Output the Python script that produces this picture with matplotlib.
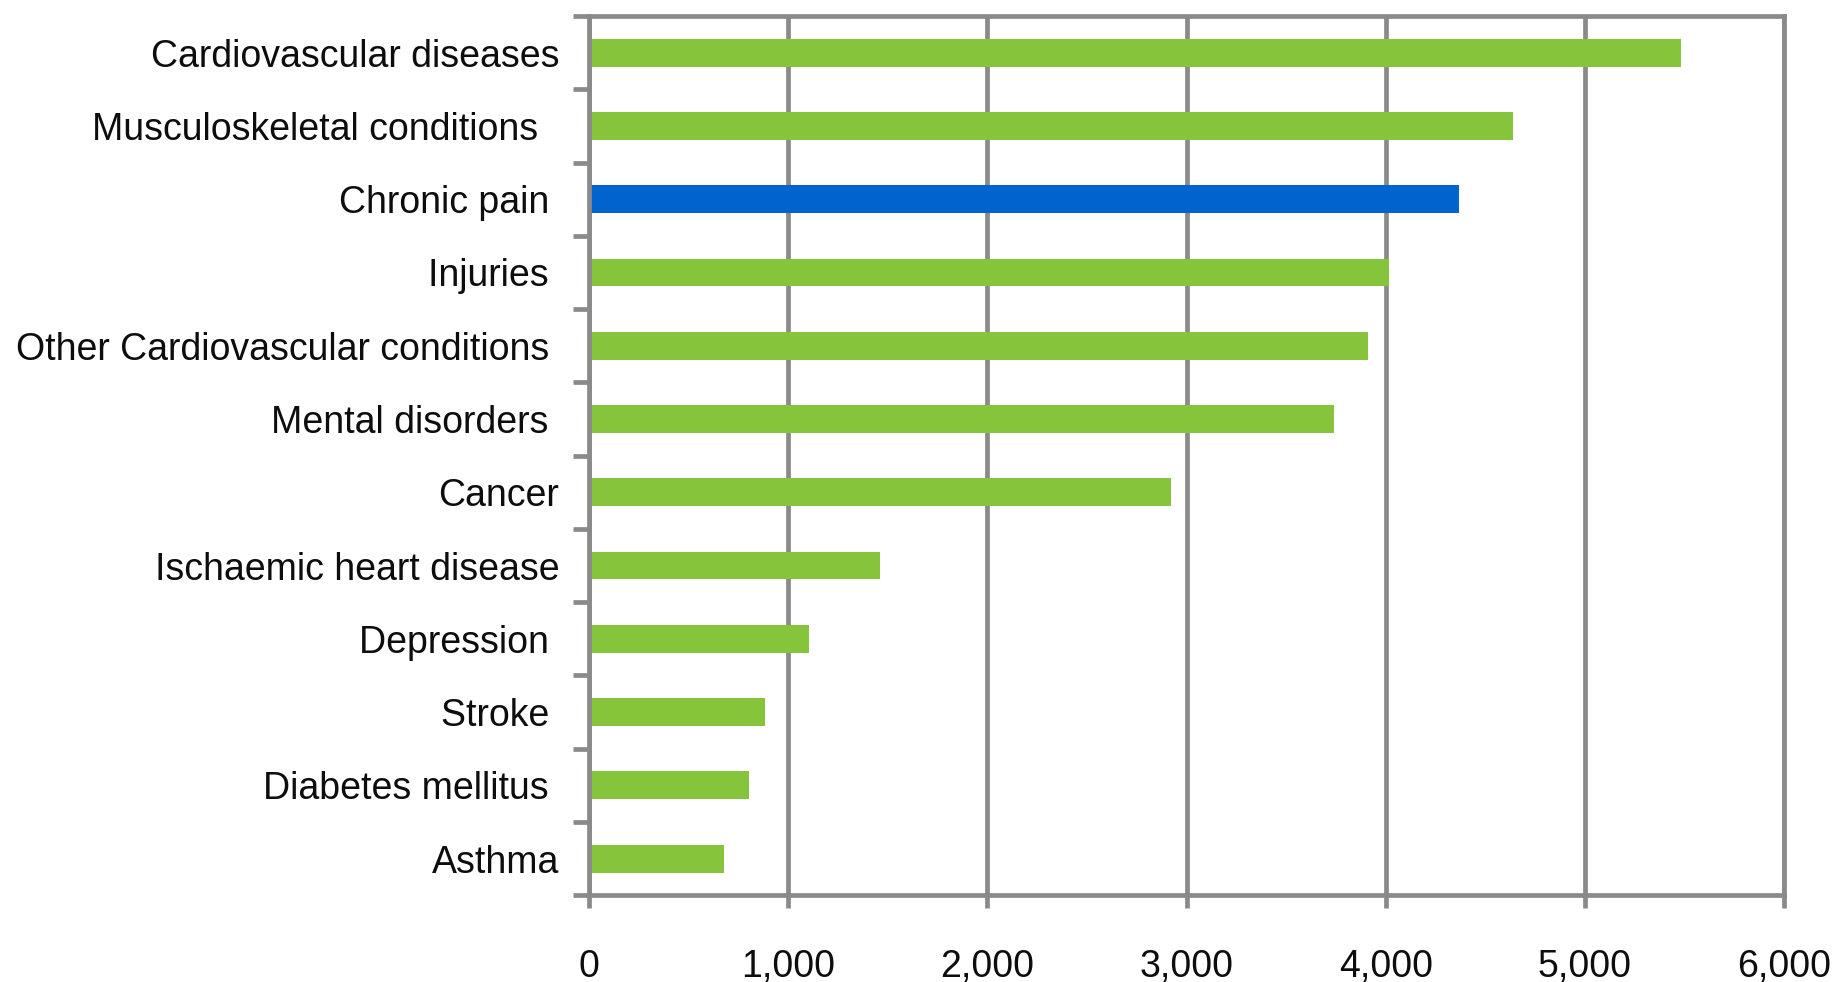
import matplotlib
matplotlib.use("Agg")
import matplotlib.pyplot as plt
from matplotlib.ticker import FuncFormatter

plt.rcParams['font.family'] = ['Liberation Sans', 'DejaVu Sans']

# Conditions (top to bottom) and their values
conditions = [
    "Cardiovascular diseases",
    "Musculoskeletal conditions  ",
    "Chronic pain ",
    "Injuries ",
    "Other Cardiovascular conditions ",
    "Mental disorders ",
    "Cancer",
    "Ischaemic heart disease",
    "Depression ",
    "Stroke ",
    "Diabetes mellitus ",
    "Asthma",
]
values = [5485, 4640, 4370, 4018, 3910, 3740, 2923, 1460, 1105, 885, 805, 680]
highlight = "Chronic pain"
x_ticks = [0, 1000, 2000, 3000, 4000, 5000, 6000]

GREEN = "#86C53B"
BLUE = "#0064CE"
GRAY = "#8A8A8A"
LW = 3.4
FS = 27.0

fig = plt.figure(figsize=(18.35, 9.82), dpi=100)
ax = fig.add_axes([0.3210, 0.0883, 0.9722 - 0.3210, 0.9837 - 0.0883])

pos = list(range(len(conditions)))
colors = [BLUE if c.strip() == highlight else GREEN for c in conditions]
ax.barh(pos, values, height=0.38, color=colors, zorder=3)

ax.set_xlim(0, 6000)
ax.set_ylim(len(conditions) - 0.5, -0.5)

# vertical gridlines
ax.set_xticks(x_ticks)
ax.xaxis.set_major_formatter(FuncFormatter(lambda v, p: f"{int(v):,}"))
ax.grid(axis="x", color=GRAY, linewidth=LW, zorder=1)
ax.set_axisbelow(True)

# category separators as outward ticks, labels at centers
ax.set_yticks([p - 0.5 for p in pos] + [len(conditions) - 0.5])
ax.set_yticklabels([])
ax.set_yticks(pos, minor=True)
ax.set_yticklabels(conditions, minor=True, fontsize=FS, color="#0d0d0d")
ax.tick_params(axis="y", which="major", length=11.5, width=LW, color=GRAY)
ax.tick_params(axis="y", which="minor", length=0, pad=21.5)
ax.tick_params(axis="x", which="major", length=9.5, width=LW, color=GRAY,
               labelsize=FS, labelcolor="#0d0d0d", pad=29)

for s in ax.spines.values():
    s.set_color(GRAY)
    s.set_linewidth(LW)
    s.set_zorder(4)

fig.savefig("out.png", dpi=100, facecolor="white")
